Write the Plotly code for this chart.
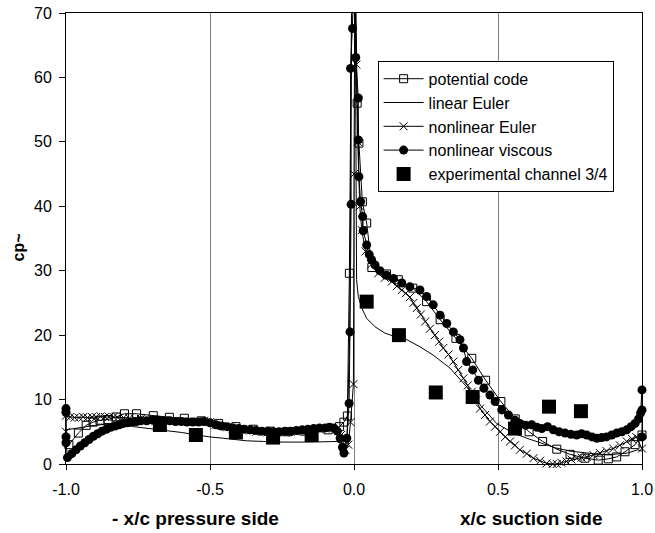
import plotly.graph_objects as go

# ---------------- data ----------------
pot_x = [-0.99, -0.957, -0.93, -0.906, -0.882, -0.854, -0.826, -0.797, -0.755, -0.697, -0.641, -0.589,
         -0.53, -0.47, -0.41, -0.35, -0.29, -0.23, -0.17, -0.09, -0.05, -0.035, -0.023, -0.016, -0.008,
         0.006, 0.011, 0.017, 0.029, 0.044, 0.062, 0.113, 0.154, 0.204, 0.252, 0.299, 0.354, 0.409,
         0.457, 0.51, 0.56, 0.608, 0.655, 0.704, 0.75, 0.802, 0.848, 0.883, 0.912, 0.941, 0.976, 1.0]
pot_y = [3.0, 4.8, 6.0, 6.5, 6.8, 6.9, 7.3, 7.8, 7.8, 7.5, 7.25, 7.1,
         6.7, 6.3, 5.8, 5.4, 5.1, 5.0, 5.1, 5.3, 5.8, 6.5, 7.45, 29.6, 74,
         74, 56.0, 49.8, 40.7, 37.4, 30.5, 29.5, 28.6, 27.3, 25.2, 22.4, 19.5, 16.4,
         13.0, 9.7, 7.0, 5.0, 3.5, 2.3, 1.5, 0.9, 0.6, 0.8, 1.1, 1.9, 3.0, 4.5]

lin_x = [-1.0, -0.95, -0.9, -0.85, -0.8, -0.766, -0.72, -0.674, -0.6, -0.546, -0.5, -0.454, -0.407,
         -0.373, -0.315, -0.25, -0.15, -0.06, -0.04, -0.025, -0.015, -0.007, 0.004, 0.009, 0.015,
         0.027, 0.044, 0.073, 0.108, 0.148, 0.183, 0.229, 0.275, 0.333, 0.391, 0.4375, 0.495, 0.553,
         0.6, 0.65, 0.7, 0.75, 0.8, 0.85, 0.9, 0.95, 0.985, 1.0]
lin_y = [5.3, 5.7, 6.0, 6.2, 6.2, 5.8, 5.6, 5.3, 4.9, 4.5, 4.2, 4.0, 3.8,
         3.6, 3.5, 3.4, 3.4, 3.5, 3.0, 2.5, 20, 75, 75, 28.6, 26.0,
         24.2, 22.6, 21.3, 20.3, 19.7, 19.3, 18.2, 16.9, 14.9, 12.0, 9.2, 6.3, 4.8,
         4.0, 3.2, 2.5, 2.0, 1.7, 1.5, 1.5, 1.7, 2.2, 2.0]

eul_x = [-1.0, -1.0, -0.985, -0.97, -0.955, -0.94, -0.925, -0.91, -0.895, -0.88, -0.865, -0.85, -0.835,
         -0.82, -0.80, -0.78, -0.76, -0.74, -0.72, -0.70, -0.68, -0.66, -0.64, -0.62, -0.60, -0.58,
         -0.56, -0.54, -0.52, -0.50, -0.48, -0.46, -0.44, -0.42, -0.40, -0.38, -0.36, -0.34, -0.32,
         -0.30, -0.28, -0.26, -0.24, -0.22, -0.20, -0.18, -0.16, -0.14, -0.12, -0.10, -0.08, -0.06,
         -0.045, -0.03, -0.02, -0.012, -0.002, 0.0, 0.003, 0.008, 0.013, 0.02, 0.027, 0.04, 0.06,
         0.084, 0.107, 0.131, 0.149, 0.166, 0.18, 0.194, 0.206, 0.218, 0.232, 0.247, 0.264, 0.281,
         0.296, 0.31, 0.328, 0.345, 0.362, 0.38, 0.395, 0.409, 0.424, 0.4375, 0.455, 0.472, 0.49,
         0.507, 0.525, 0.542, 0.559, 0.576, 0.6, 0.623, 0.646, 0.669, 0.69, 0.704, 0.72, 0.738,
         0.755, 0.773, 0.79, 0.808, 0.831, 0.854, 0.877, 0.9, 0.923, 0.947, 0.965, 0.98, 1.0]
eul_y = [5.0, 7.5, 7.3, 7.2, 7.2, 7.3, 7.2, 7.3, 7.3, 7.4, 7.3, 7.3, 7.3,
         7.2, 7.2, 7.1, 7.0, 7.0, 6.9, 6.9, 6.8, 6.8, 6.7, 6.7, 6.6, 6.6,
         6.6, 6.6, 6.7, 6.5, 6.1, 5.9, 5.7, 5.5, 5.4, 5.3, 5.2, 5.0, 5.0,
         4.9, 4.9, 4.9, 4.9, 5.0, 5.0, 5.1, 5.2, 5.3, 5.4, 5.5, 5.6, 5.4,
         4.5, 2.2, 3.0, 6.5, 12.4, 45, 75, 62, 50, 40, 36.3, 33.0, 31.0,
         29.6, 28.9, 28.3, 27.6, 27.0, 26.5, 25.9, 25.0, 24.2, 23.2, 22.1, 21.0, 20.0,
         19.0, 18.0, 17.0, 15.9, 14.6, 13.3, 12.2, 11.2, 9.9, 8.6, 7.6, 6.6, 5.8,
         5.0, 4.2, 3.5, 2.9, 2.2, 1.6, 0.9, 0.5, 0.1, 0.0, 0.0, 0.2, 0.4,
         0.7, 0.9, 1.0, 1.1, 1.4, 1.7, 2.0, 2.4, 2.9, 3.5, 3.9, 4.2, 2.4]

vis_x = [-1.0, -1.0, -1.0, -1.0, -0.995, -0.98, -0.965, -0.95, -0.935, -0.92, -0.905, -0.89, -0.875,
         -0.86, -0.845, -0.83, -0.815, -0.8, -0.785, -0.77, -0.755, -0.74, -0.72, -0.70, -0.68, -0.66,
         -0.64, -0.62, -0.60, -0.58, -0.56, -0.54, -0.52, -0.50, -0.48, -0.46, -0.44, -0.42, -0.40,
         -0.38, -0.36, -0.34, -0.32, -0.30, -0.28, -0.26, -0.24, -0.22, -0.20, -0.18, -0.16, -0.14,
         -0.12, -0.10, -0.085, -0.07, -0.058, -0.048, -0.04, -0.035, -0.025, -0.017, -0.014, -0.01,
         -0.012, -0.005, 0.0, 0.006, 0.015, 0.015, 0.017, 0.023, 0.03, 0.032, 0.044, 0.053, 0.061,
         0.073, 0.09, 0.113, 0.137, 0.166, 0.194, 0.229, 0.252, 0.275, 0.299, 0.322, 0.345, 0.368,
         0.38, 0.391, 0.412, 0.432, 0.451, 0.472, 0.49, 0.513, 0.536, 0.559, 0.576, 0.596, 0.617,
         0.635, 0.652, 0.672, 0.692, 0.712, 0.733, 0.753, 0.773, 0.79, 0.808, 0.826, 0.843, 0.86,
         0.877, 0.895, 0.912, 0.93, 0.947, 0.962, 0.976, 0.988, 0.995, 1.0, 1.0, 1.0]
vis_y = [8.6, 8.0, 4.2, 3.3, 1.0, 1.6, 2.2, 2.8, 3.3, 3.8, 4.3, 4.7, 5.1,
         5.4, 5.7, 5.9, 6.1, 6.3, 6.4, 6.5, 6.6, 6.7, 6.7, 6.8, 6.8, 6.7,
         6.7, 6.6, 6.6, 6.5, 6.5, 6.5, 6.6, 6.4, 6.1, 5.9, 5.8, 5.6, 5.5,
         5.4, 5.3, 5.2, 5.1, 5.1, 5.0, 5.0, 5.1, 5.1, 5.2, 5.3, 5.4, 5.5,
         5.6, 5.6, 5.7, 5.6, 5.1, 4.0, 2.6, 1.7, 4.0, 9.4, 20.5, 40.3,
         61.4, 67.6, 74, 63.1, 56.8, 50.3, 44.6, 40.7, 38.4, 36.2, 34.0, 32.5, 31.7,
         30.9, 30.0, 29.3, 28.8, 28.1, 27.5, 27.0, 26.0, 24.7, 23.1, 21.8, 20.5, 19.3,
         18.0, 15.9, 14.6, 13.0, 11.75, 10.7, 9.7, 8.4, 7.6, 6.8, 6.3, 6.0, 6.1,
         5.7, 5.5, 5.8, 5.3, 5.0, 4.8, 4.6, 4.5, 4.7, 4.5, 4.2, 4.0, 4.1,
         4.2, 4.5, 4.8, 5.0, 5.3, 5.8, 6.3, 7.0, 7.9, 11.5, 8.4, 4.2]

exp_x = [-0.674, -0.549, -0.41, -0.281, -0.147, 0.044, 0.156, 0.284, 0.412, 0.559, 0.677, 0.788]
exp_y = [6.05, 4.5, 4.9, 4.1, 4.5, 25.2, 20.0, 11.1, 10.4, 5.5, 8.9, 8.2]

x_ticks = [-1.0, -0.5, 0.0, 0.5, 1.0]
y_ticks = [0, 10, 20, 30, 40, 50, 60, 70]

FONT = "Liberation Sans, Arial, sans-serif"

fig = go.Figure()
fig.add_trace(go.Scatter(
    x=pot_x, y=pot_y, mode="lines+markers", name="potential code", cliponaxis=False,
    line=dict(color="black", width=1),
    marker=dict(symbol="square-open", size=8, color="black", line=dict(width=1, color="black"))))
fig.add_trace(go.Scatter(
    x=lin_x, y=lin_y, mode="lines", name="linear Euler", cliponaxis=False,
    line=dict(color="black", width=1)))
fig.add_trace(go.Scatter(
    x=eul_x, y=eul_y, mode="lines+markers", name="nonlinear Euler", cliponaxis=False,
    line=dict(color="black", width=1),
    marker=dict(symbol="x-thin-open", size=8, color="black", line=dict(width=1, color="black"))))
fig.add_trace(go.Scatter(
    x=vis_x, y=vis_y, mode="lines+markers", name="nonlinear viscous", cliponaxis=False,
    line=dict(color="black", width=1),
    marker=dict(symbol="circle", size=9, color="black")))
fig.add_trace(go.Scatter(
    x=exp_x, y=exp_y, mode="markers", name="experimental channel 3/4", cliponaxis=False,
    marker=dict(symbol="square", size=14, color="black")))

fig.update_layout(
    template="none",
    width=655, height=533, autosize=False,
    margin=dict(l=66, r=13, t=13, b=69, autoexpand=False),
    paper_bgcolor="white", plot_bgcolor="white",
    font=dict(family=FONT, size=16, color="black"),
    showlegend=True,
    legend=dict(x=0.541, y=0.894, xanchor="left", yanchor="top",
                bgcolor="white", bordercolor="black", borderwidth=1,
                font=dict(family=FONT, size=16, color="black"),
                tracegroupgap=0, itemwidth=40),
    xaxis=dict(range=[-1, 1], tickvals=x_ticks, ticktext=[f"{v:.1f}" for v in x_ticks],
               showgrid=True, gridcolor="#808080", gridwidth=1, zeroline=False, automargin=False,
               showline=True, linecolor="black", linewidth=1, mirror=True,
               ticks="outside", ticklen=5, tickcolor="black", ticklabelstandoff=6,
               tickfont=dict(family=FONT, size=16)),
    yaxis=dict(range=[0, 70], tickvals=y_ticks,
               showgrid=False, zeroline=False, automargin=False,
               showline=True, linecolor="black", linewidth=1, mirror=True,
               ticks="outside", ticklen=6, tickcolor="black", ticklabelstandoff=4,
               tickfont=dict(family=FONT, size=16)),
    annotations=[
        dict(text="<b>- x/c pressure side</b>", xref="paper", yref="paper",
             x=(195 - 66) / 576, y=-(518 - 464) / 451, xanchor="center", yanchor="middle",
             showarrow=False, font=dict(family=FONT, size=19)),
        dict(text="<b>x/c suction side</b>", xref="paper", yref="paper",
             x=(531 - 66) / 576, y=-(518 - 464) / 451, xanchor="center", yanchor="middle",
             showarrow=False, font=dict(family=FONT, size=19)),
        dict(text="<b>cp~</b>", xref="paper", yref="paper", textangle=-90,
             x=(17.5 - 66) / 576, y=1 - (248 - 13) / 451, xanchor="center", yanchor="middle",
             showarrow=False, font=dict(family=FONT, size=16)),
    ],
)

fig.write_html("out.html", config={"displayModeBar": False},
               post_script="document.body.style.margin='0';")
